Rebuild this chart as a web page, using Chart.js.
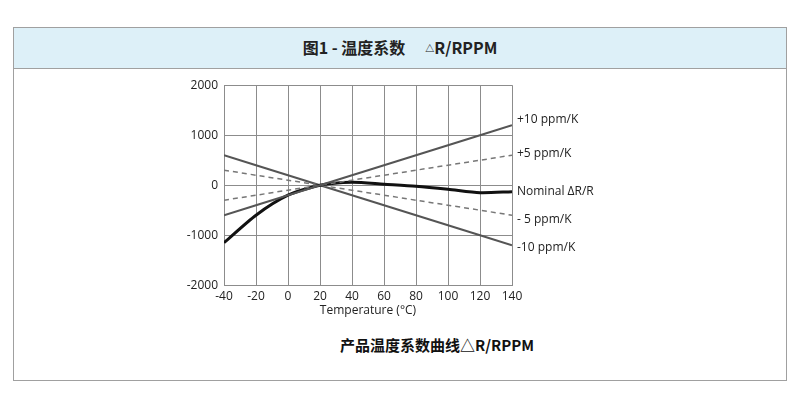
<!DOCTYPE html>
<html>
<head>
<meta charset="utf-8">
<script src="https://cdn.jsdelivr.net/npm/chart.js@4"></script>
<style>
  body { margin: 0; background: #fff; font-family: "Open Sans", "Noto Sans CJK SC", sans-serif; }
  #frame { position: absolute; left: 13px; top: 27px; width: 772px; height: 352px; border: 1px solid #a0a0a0; }
  #header { height: 40px; background: #ddf0f8; border-bottom: 1px solid #a0a0a0; text-align: center; line-height: 38px; font-weight: bold; font-size: 16px; color: #222; font-family: "Noto Sans CJK SC", sans-serif; }
  #header .tri { font-size: 9px; margin-left: 20px; vertical-align: 2px; }
  #wrap { position: absolute; left: 160px; top: 72px; width: 460px; height: 246px; }
  #caption { position: absolute; left: 0; width: 874px; top: 334px; text-align: center; font-weight: bold; font-size: 15px; color: #111; font-family: "Noto Sans CJK SC", sans-serif; }
</style>
</head>
<body>
<div id="frame"><div id="header">图1 - 温度系数<span class="tri">△</span>R/RPPM</div></div>
<div id="wrap"><canvas id="tcChart"></canvas></div>
<div id="caption">产品温度系数曲线△R/RPPM</div>
<script>
const temps = [-40, -20, 0, 20, 40, 60, 80, 100, 120, 140];
const plus10 = [-600, -400, -200, 0, 200, 400, 600, 800, 1000, 1200];
const plus5 = [-300, -200, -100, 0, 100, 200, 300, 400, 500, 600];
const nominal = [-1150, -600, -200, 0, 60, 20, -20, -80, -150, -130];
const minus5 = [300, 200, 100, 0, -100, -200, -300, -400, -500, -600];
const minus10 = [600, 400, 200, 0, -200, -400, -600, -800, -1000, -1200];
const seriesLabels = ["+10 ppm/K", "+5 ppm/K", "Nominal ΔR/R", "- 5 ppm/K", "-10 ppm/K"];
const labelShift = [-6, -2, 0, 4, 2];

function pts(vals) {
  return temps.map((t, i) => ({ x: t, y: vals[i] }));
}

// draw the series names to the right of the plot
const endLabels = {
  id: "endLabels",
  afterDatasetsDraw(chart) {
    const c = chart.ctx;
    c.save();
    c.font = "12px 'Open Sans'";
    c.fillStyle = "#222";
    c.textBaseline = "middle";
    chart.data.datasets.forEach((ds, i) => {
      const meta = chart.getDatasetMeta(i);
      const last = meta.data[meta.data.length - 1];
      c.fillText(ds.label, chart.chartArea.right + 5, last.y + labelShift[i]);
    });
    c.restore();
  }
};

const ctx = document.getElementById("tcChart").getContext("2d");
new Chart(ctx, {
  type: "line",
  data: {
    datasets: [
      { label: seriesLabels[0], data: pts(plus10), borderColor: "#555", borderWidth: 2 },
      { label: seriesLabels[1], data: pts(plus5), borderColor: "#777", borderWidth: 1.5, borderDash: [5, 4] },
      { label: seriesLabels[2], data: pts(nominal), borderColor: "#111", borderWidth: 3, tension: 0.25 },
      { label: seriesLabels[3], data: pts(minus5), borderColor: "#777", borderWidth: 1.5, borderDash: [5, 4] },
      { label: seriesLabels[4], data: pts(minus10), borderColor: "#555", borderWidth: 2 }
    ]
  },
  options: {
    responsive: true,
    maintainAspectRatio: false,
    animation: false,
    elements: { point: { radius: 0 } },
    layout: { padding: { top: 10, right: 108, left: 0, bottom: 0 } },
    plugins: { legend: { display: false }, tooltip: { enabled: false } },
    scales: {
      x: {
        type: "linear",
        min: -40, max: 140,
        ticks: { stepSize: 20, color: "#222", font: { family: "Open Sans", size: 12 }, padding: 4, maxRotation: 0 },
        grid: { color: "#8c8c8c", drawTicks: false },
        border: { color: "#8c8c8c" },
        title: { display: true, text: "Temperature (°C)", color: "#222", font: { family: "Open Sans", size: 12 }, padding: { top: -4, bottom: 0 } }
      },
      y: {
        min: -2000, max: 2000,
        ticks: { stepSize: 1000, color: "#222", font: { family: "Open Sans", size: 12 }, padding: 6, callback: v => String(v) },
        grid: { color: "#8c8c8c", drawTicks: false },
        border: { color: "#8c8c8c" },
        afterFit(scale) { scale.width = 64; }
      }
    }
  },
  plugins: [endLabels]
});
</script>
</body>
</html>
